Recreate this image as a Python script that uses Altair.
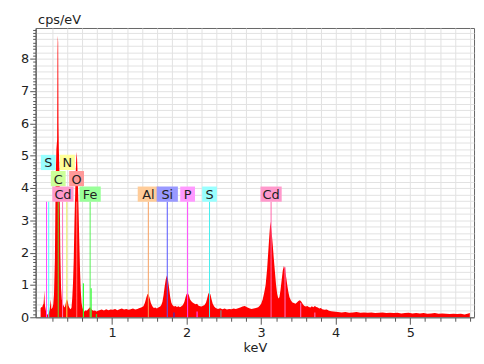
import altair as alt
import pandas as pd

# ---- spectrum (keV, cps/eV) ----
energy = [0.04, 0.05, 0.06, 0.07, 0.08, 0.085, 0.09, 0.095, 0.10, 0.11, 0.12, 0.13, 0.14, 0.15, 0.16, 0.17,
          0.177, 0.185, 0.20, 0.21, 0.22, 0.232, 0.242, 0.252, 0.262, 0.267, 0.271, 0.276, 0.28, 0.285, 0.295,
          0.305, 0.315, 0.325, 0.335, 0.345, 0.355, 0.365, 0.375, 0.385, 0.395, 0.405, 0.415, 0.43, 0.445, 0.455,
          0.465, 0.475, 0.485, 0.495, 0.505, 0.512, 0.518, 0.524, 0.53, 0.54, 0.55, 0.56, 0.57, 0.58, 0.59,
          0.60, 0.615, 0.63, 0.645, 0.66, 0.675, 0.69, 0.705, 0.72, 0.735, 0.75, 0.77, 0.79, 0.81,
          0.83, 0.86, 0.89, 0.92, 0.95, 0.98, 1.01, 1.04, 1.07, 1.10, 1.13, 1.16, 1.19, 1.22, 1.25, 1.28,
          1.31, 1.34, 1.36,
          1.39, 1.42, 1.44, 1.46, 1.475, 1.49, 1.505, 1.52, 1.54, 1.56, 1.58, 1.60, 1.62, 1.645,
          1.66, 1.675, 1.69, 1.705, 1.72, 1.735, 1.75, 1.765, 1.78, 1.795, 1.81, 1.83, 1.85, 1.87, 1.89,
          1.91, 1.93, 1.95,
          1.97, 1.985, 2.00, 2.015, 2.03, 2.045, 2.06, 2.08, 2.10, 2.12, 2.14, 2.16, 2.18, 2.20, 2.22, 2.24,
          2.26, 2.275, 2.29, 2.305, 2.32, 2.335, 2.35, 2.37, 2.39, 2.42, 2.45, 2.48, 2.51, 2.54, 2.57, 2.60,
          2.63, 2.66, 2.69, 2.72, 2.75, 2.78, 2.81, 2.84, 2.87, 2.90, 2.93, 2.96, 2.98,
          3.00, 3.02, 3.04, 3.06, 3.08, 3.10, 3.115, 3.125, 3.14, 3.155, 3.17, 3.185, 3.20, 3.215, 3.23,
          3.245, 3.26, 3.275, 3.29, 3.305, 3.32, 3.335, 3.35, 3.365, 3.38, 3.40, 3.42, 3.44, 3.46, 3.48,
          3.50, 3.52, 3.54, 3.56, 3.58, 3.60, 3.62, 3.64, 3.66, 3.68, 3.70, 3.72, 3.74, 3.76, 3.78, 3.80,
          3.82, 3.85, 3.88, 3.91, 3.94, 3.97, 4.00,
          4.03, 4.08, 4.13, 4.18, 4.23, 4.28, 4.33, 4.38, 4.43, 4.48, 4.53, 4.58, 4.63, 4.68, 4.73, 4.78,
          4.83, 4.88, 4.93, 4.98, 5.03, 5.08, 5.13, 5.18, 5.23, 5.28, 5.33, 5.38, 5.43, 5.48, 5.53, 5.58,
          5.63, 5.68, 5.73, 5.78, 5.80]
cps = [0.28, 0.32, 0.30, 0.38, 0.42, 0.60, 0.83, 0.50, 0.35, 0.22, 0.12, 0.08, 0.10, 0.14, 0.22, 0.40,
       0.56, 0.25, 0.30, 0.40, 0.70, 1.8, 4.2, 5.2, 5.5, 8.2, 8.72, 8.5, 6.0, 5.2, 4.3,
       2.0, 0.9, 0.55, 0.42, 0.38, 0.33, 0.30, 0.40, 0.52, 0.55, 0.48, 0.36, 0.28, 0.25, 0.30,
       0.60, 1.05, 1.8, 3.0, 3.9, 4.5, 4.9, 5.12, 4.9, 4.2, 3.3, 2.3, 1.4, 0.8, 0.45,
       0.30, 0.20, 0.18, 0.22, 0.20, 0.24, 0.28, 0.32, 0.26, 0.22, 0.20, 0.21, 0.18, 0.20,
       0.22, 0.24, 0.21, 0.25, 0.22, 0.24, 0.23, 0.26, 0.22, 0.25, 0.27, 0.24, 0.26, 0.23, 0.25, 0.27,
       0.24, 0.26, 0.28,
       0.30, 0.34, 0.45, 0.62, 0.72, 0.70, 0.58, 0.44, 0.34, 0.29, 0.30, 0.27, 0.30, 0.33,
       0.38, 0.48, 0.68, 0.95, 1.18, 1.29, 1.15, 0.90, 0.62, 0.45, 0.38, 0.33, 0.35, 0.32, 0.34,
       0.31, 0.34, 0.38,
       0.48, 0.62, 0.72, 0.75, 0.68, 0.56, 0.50, 0.46, 0.43, 0.40, 0.42, 0.36, 0.34, 0.33, 0.36, 0.38,
       0.46, 0.58, 0.72, 0.78, 0.70, 0.55, 0.42, 0.33, 0.29, 0.26, 0.28, 0.25, 0.27, 0.24, 0.26, 0.25,
       0.27, 0.26, 0.28, 0.30, 0.33, 0.35, 0.31, 0.28, 0.26, 0.27, 0.29, 0.31, 0.36,
       0.42, 0.55, 0.75, 1.0, 1.5, 2.2, 2.7, 2.96, 2.65, 2.25, 1.8, 1.4, 1.0, 0.72, 0.58,
       0.62, 0.85, 1.15, 1.45, 1.59, 1.50, 1.25, 1.0, 0.78, 0.62, 0.52, 0.46, 0.44, 0.42, 0.46,
       0.50, 0.53, 0.48, 0.40, 0.35, 0.33, 0.35, 0.32, 0.30, 0.34, 0.31, 0.35, 0.32, 0.30, 0.27, 0.29,
       0.25, 0.23, 0.24, 0.20, 0.19, 0.18, 0.17,
       0.16, 0.15, 0.16, 0.14, 0.15, 0.16, 0.14, 0.15, 0.14, 0.15, 0.13, 0.14, 0.15, 0.13, 0.14, 0.13,
       0.14, 0.12, 0.13, 0.14, 0.12, 0.13, 0.12, 0.13, 0.11, 0.12, 0.13, 0.11, 0.12, 0.11, 0.10, 0.11,
       0.10, 0.11, 0.09, 0.12, 0.13]

# ---- element labels ----
label_text = ["S", "N", "C", "O", "Cd", "Fe", "Al", "Si", "P", "S", "Cd"]
label_energy = [0.143, 0.40, 0.277, 0.523, 0.34, 0.705, 1.486, 1.740, 2.013, 2.307, 3.133]
label_row = [0, 0, 1, 1, 2, 2, 2, 2, 2, 2, 2]
label_fill = ["#99FFFF", "#FFFF99", "#CCFF99", "#FF9999", "#FF99CC", "#99FF99",
              "#FFCC99", "#9999FF", "#FF99FF", "#99FFFF", "#FF99CC"]

# marker lines from labels down to the axis
line_energy = [0.120, 0.149, 0.277, 0.335, 0.392, 0.525, 0.705, 1.486, 1.740, 2.013, 2.307, 3.133]
line_color = ["#FF44FF", "#44FFFF", "#66DD33", "#FF77BB", "#EEEE55", "#FF7777", "#55EE55",
              "#F5A060", "#5555FF", "#FF44FF", "#44EEEE", "#FF66AA"]

# small secondary lines
minor_energy = [0.615, 0.718, 0.79, 1.83, 2.14, 2.46, 3.32, 3.53, 3.72]
minor_top = [1.05, 0.90, 0.10, 0.15, 0.18, 0.22, 1.55, 0.45, 0.15]
minor_color = ["#33FF33", "#33FF33", "#33DD33", "#3333CC", "#FF44FF", "#888888", "#FF66AA", "#FF66AA", "#FF66AA"]

row_center = [4.79, 4.29, 3.81]
half_h = 0.235

spec = pd.DataFrame({"keV": energy, "cps": cps})
labels = pd.DataFrame({
    "text": label_text,
    "keV": label_energy,
    "yc": [row_center[r] for r in label_row],
    "fill": label_fill,
})
labels["y1"] = labels["yc"] - half_h
labels["y2"] = labels["yc"] + half_h
labels["w"] = [6.5 * len(t) + 8.5 for t in label_text]
lines = pd.DataFrame({"keV": line_energy, "base": 0.0, "top": row_center[2] - half_h, "color": line_color})
minor = pd.DataFrame({"keV": minor_energy, "base": 0.0, "top": minor_top, "color": minor_color})

xs = alt.Scale(domain=[0.04, 5.79], nice=False, zero=False)
ys = alt.Scale(domain=[0, 8.95], nice=False)

x_vals = [round(0.2 * i, 1) for i in range(1, 30)]
y_vals = [round(0.1 * i, 1) for i in range(0, 90)]

INT_TEST = "abs(datum.value - round(datum.value)) < 0.01"

x_axis = alt.Axis(
    values=x_vals, tickCount=500, title="keV",
    labelExpr=INT_TEST + " ? format(datum.value, 'd') : ''",
    tickSize={"condition": {"test": INT_TEST, "value": 7}, "value": 4},
    labelPadding=2, titlePadding=3, labelFlush=False, labelOverlap=False,
)
y_axis = alt.Axis(
    values=y_vals, tickCount=500, title="cps/eV",
    labelExpr=INT_TEST + " ? format(datum.value, 'd') : ''",
    tickSize={"condition": {"test": INT_TEST, "value": 6}, "value": 3},
    gridOpacity={"condition": {"test": "round(datum.value * 10) % 2 == 0", "value": 1}, "value": 0},
    labelPadding=1, titleAngle=0, titleAlign="left", titleBaseline="alphabetic",
    titleX=2, titleY=-5, labelOverlap=False, labelFlush=False,
)

area = alt.Chart(spec).mark_area(color="#FF0000", clip=True, interpolate="linear").encode(
    x=alt.X("keV:Q", scale=xs, axis=x_axis),
    y=alt.Y("cps:Q", scale=ys, axis=y_axis),
)

minor_rules = alt.Chart(minor).mark_rule(strokeWidth=1.2).encode(
    x=alt.X("keV:Q"),
    y=alt.Y("base:Q"),
    y2="top:Q",
    color=alt.Color("color:N", scale=None),
)

rules = alt.Chart(lines).mark_rule(strokeWidth=1).encode(
    x=alt.X("keV:Q"),
    y=alt.Y("base:Q"),
    y2="top:Q",
    color=alt.Color("color:N", scale=None),
)

boxes = alt.Chart(labels).mark_bar(opacity=1).encode(
    x=alt.X("keV:Q"),
    y=alt.Y("y1:Q"),
    y2="y2:Q",
    size=alt.Size("w:Q", scale=None),
    color=alt.Color("fill:N", scale=None),
)

texts = alt.Chart(labels).mark_text(font="DejaVu Sans", fontSize=13, color="#222222",
                                    baseline="middle", align="center", dy=1).encode(
    x=alt.X("keV:Q"),
    y=alt.Y("yc:Q"),
    text="text:N",
)

chart = alt.layer(area, minor_rules, rules, boxes, texts).properties(
    width=444, height=293,
    autosize=alt.AutoSizeParams(type="none"),
    padding={"left": 28, "top": 18, "right": 2, "bottom": 40},
).configure_view(
    stroke="#666666", strokeWidth=1,
).configure_axis(
    labelFont="DejaVu Sans", labelFontSize=13, labelColor="#222222",
    titleFont="DejaVu Sans", titleFontSize=13, titleFontWeight="normal", titleColor="#222222",
    domainColor="#555555", tickColor="#555555",
    gridColor="#E2E2E2", gridWidth=1,
)

chart.save("out.html", embed_options={"renderer": "svg", "actions": False})
